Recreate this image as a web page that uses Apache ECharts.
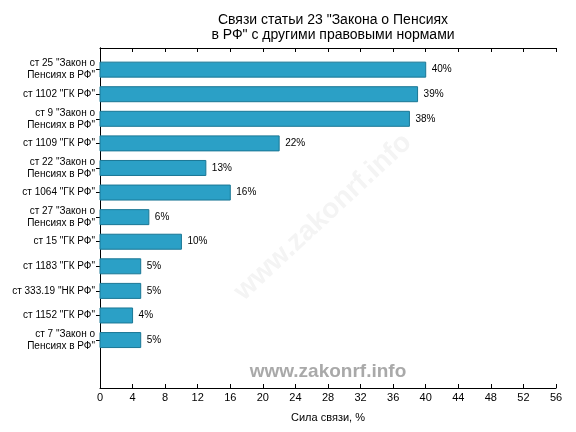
<!DOCTYPE html>
<html>
<head>
<meta charset="utf-8">
<script src="https://cdn.jsdelivr.net/npm/echarts@6/dist/echarts.min.js"></script>
<style>html,body{margin:0;padding:0;background:#fff}#c{width:576px;height:432px}</style>
</head>
<body>
<div id="c"></div>
<script>
var categories = [
  'ст 25 "Закон о\nПенсиях в РФ"',
  'ст 1102 "ГК РФ"',
  'ст 9 "Закон о\nПенсиях в РФ"',
  'ст 1109 "ГК РФ"',
  'ст 22 "Закон о\nПенсиях в РФ"',
  'ст 1064 "ГК РФ"',
  'ст 27 "Закон о\nПенсиях в РФ"',
  'ст 15 "ГК РФ"',
  'ст 1183 "ГК РФ"',
  'ст 333.19 "НК РФ"',
  'ст 1152 "ГК РФ"',
  'ст 7 "Закон о\nПенсиях в РФ"'
];
var values = [40, 39, 38, 22, 13, 16, 6, 10, 5, 5, 4, 5];
var xTicks = [0, 4, 8, 12, 16, 20, 24, 28, 32, 36, 40, 44, 48, 52, 56];

var positions = categories.map(function (c, i) { return i; });
var data = values.map(function (v, i) { return [v, i]; });
var font = 'Liberation Sans, Arial, sans-serif';

var chart = echarts.init(document.getElementById('c'), null, {renderer: 'canvas'});
var yBase = {
  type: 'value', inverse: true, min: -0.88, max: 12.95,
  splitLine: {show: false},
  axisLine: {show: true, lineStyle: {color: '#000', width: 1}},
  axisTick: {show: true, inside: true, length: 4, customValues: positions, lineStyle: {color: '#000'}}
};
var xBase = {
  type: 'value', min: 0, max: 56, interval: 4,
  splitLine: {show: false},
  axisLine: {show: true, onZero: false, lineStyle: {color: '#000', width: 1}},
  axisTick: {show: true, inside: true, length: 4, lineStyle: {color: '#000'}}
};
var BAR_H = 15;
chart.setOption({
  animation: false,
  backgroundColor: '#fff',
  title: {
    text: 'Связи статьи 23 "Закона о Пенсиях\nв РФ" с другими правовыми нормами',
    left: 328, top: 8, textAlign: 'center',
    textStyle: {fontFamily: font, fontSize: 14, fontWeight: 'normal', color: '#000', lineHeight: 15}
  },
  grid: {left: 100, right: 20, top: 48, bottom: 44},
  xAxis: [
    Object.assign({}, xBase, {
      position: 'bottom',
      name: 'Сила связи, %', nameLocation: 'middle', nameGap: 24,
      nameTextStyle: {fontFamily: font, fontSize: 11, color: '#000'},
      axisLabel: {
        show: true, fontFamily: font, fontSize: 11, color: '#000', margin: 4,
        customValues: xTicks,
        formatter: function (v) { return String(v); }
      }
    }),
    Object.assign({}, xBase, {position: 'top', axisLabel: {show: false}})
  ],
  yAxis: [
    Object.assign({}, yBase, {
      position: 'left',
      axisLabel: {
        show: true, customValues: positions, fontFamily: font, fontSize: 10,
        color: '#000', lineHeight: 12, margin: 5, align: 'right',
        formatter: function (v) { return categories[Math.round(v)] || ''; }
      }
    }),
    Object.assign({}, yBase, {position: 'right', axisLabel: {show: false}})
  ],
  graphic: [
    {
      type: 'text', z: 0,
      position: [323, 217], rotation: Math.PI / 4.2,
      style: {
        text: 'www.zakonrf.info', fontFamily: font, fontSize: 28, fontWeight: 'bold',
        fill: '#f4f4f4', textAlign: 'center', textVerticalAlign: 'middle'
      }
    },
    {
      type: 'text', z: 100,
      position: [328, 372],
      style: {
        text: 'www.zakonrf.info', fontFamily: font, fontSize: 19, fontWeight: 'bold',
        fill: '#a9a9a9', textAlign: 'center', textVerticalAlign: 'middle'
      }
    }
  ],
  series: [{
    type: 'custom',
    xAxisIndex: 0, yAxisIndex: 0,
    data: data,
    encode: {x: 0, y: 1},
    z: 5,
    renderItem: function (params, api) {
      var v = api.value(0), idx = api.value(1);
      var p0 = api.coord([0, idx]);
      var p1 = api.coord([v, idx]);
      return {
        type: 'group',
        children: [
          {
            type: 'rect',
            shape: {x: p0[0], y: p0[1] - BAR_H / 2, width: p1[0] - p0[0], height: BAR_H},
            style: {fill: '#2ba0c6', stroke: '#1a7795', lineWidth: 1}
          },
          {
            type: 'text',
            x: p1[0] + 6, y: p1[1],
            style: {
              text: v + '%', fontFamily: font, fontSize: 10, fill: '#000',
              textAlign: 'left', textVerticalAlign: 'middle'
            }
          }
        ]
      };
    }
  }]
});
</script>
</body>
</html>
